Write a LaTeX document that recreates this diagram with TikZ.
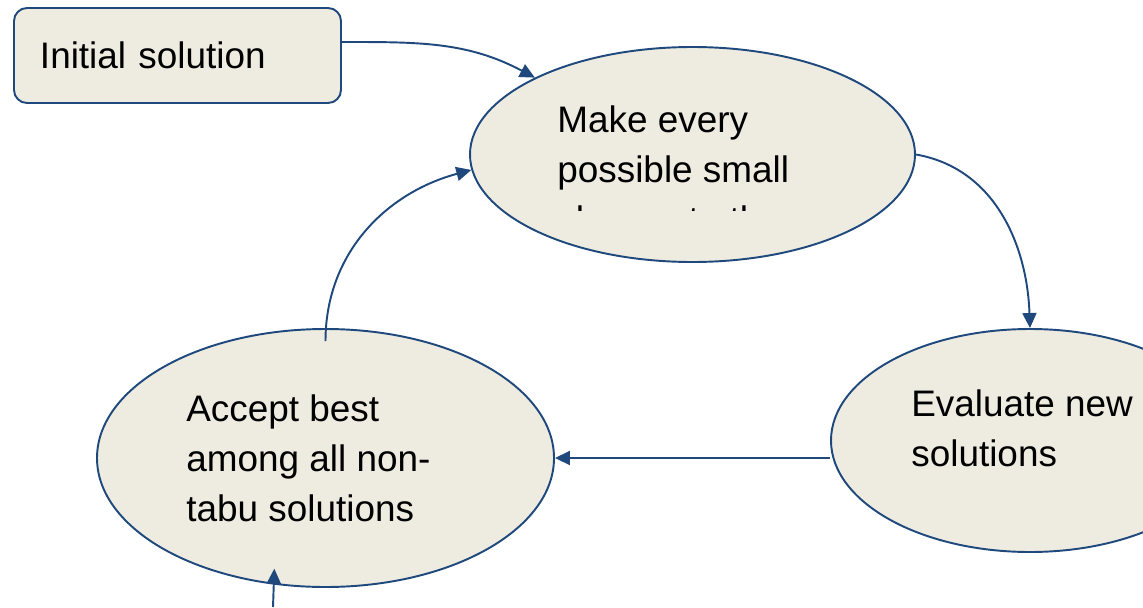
\documentclass[tikz,border=0pt]{standalone}
\usepackage{fontspec}
\setmainfont{Liberation Sans}
\usetikzlibrary{arrows.meta,shapes.geometric}
\definecolor{flowline}{HTML}{1F497D}
\definecolor{flowfill}{HTML}{EEECE1}
\tikzset{
  box/.style={draw=flowline,fill=flowfill,line width=1.1pt,rounded corners=0.26cm},
  oval/.style={draw=flowline,fill=flowfill,line width=1.1pt,ellipse,inner sep=0pt},
  words/.style={align=left,inner sep=0pt},
  flow/.style={draw=flowline,line width=1.1pt,-{Triangle[length=0.3cm,width=0.28cm]}}
}

\begin{document}
\begin{tikzpicture}[x=1cm,y=1cm,every node/.style={font=\fontsize{21}{28.2}\selectfont}]
\clip (0,0) rectangle (22.86,12.14);
\node[box,minimum width=6.54cm,minimum height=1.9cm,text width=5.5cm,inner xsep=0.52cm,align=left] (init) at (3.55,11.03) {Initial solution};
\node[oval,minimum width=8.9cm,minimum height=4.3cm] (make) at (13.85,9.05) {};
\node[oval,minimum width=7.96cm,minimum height=4.46cm] (eval) at (20.60,3.33) {};
\node[oval,minimum width=9.14cm,minimum height=5.16cm] (accept) at (6.51,2.98) {};
\begin{scope}
\clip (10,7.94) rectangle (18,11);
\node[words,anchor=base west] (maketext) at (11.14,7.50) {Make every\\possible small\\change to the};
\end{scope}
\node[words,anchor=base west] (evaltext) at (18.22,2.82) {Evaluate new\\solutions};
\node[words,anchor=base west] (accepttext) at (3.72,1.72) {Accept best\\among all non-\\tabu solutions};
\coordinate (feed) at (5.46,0);
\draw[flow] ([yshift=0.27cm]init.east) to[out=0,in=152] (make.154);
\draw[flow] (make.east) to[out=-10,in=92] (eval.north);
\draw[flow] (accept.east -| eval.west) -- (accept.east);
\draw[flow] ([yshift=-0.26cm]accept.north) to[out=90,in=195] (make.184);
\draw[flow] (feed) -- ([yshift=0.32cm]accept.248.6);
\end{tikzpicture}
\end{document}
